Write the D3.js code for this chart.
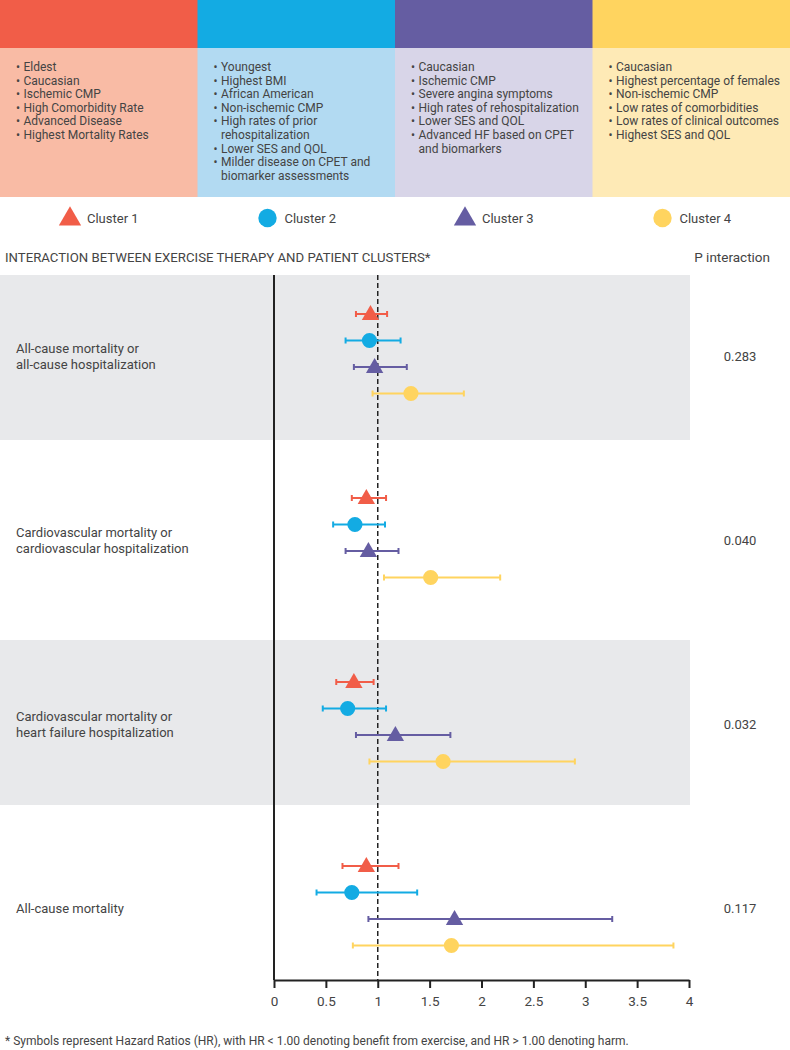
<!DOCTYPE html>
<html>
<head>
<meta charset="utf-8">
<script src="https://cdn.jsdelivr.net/npm/d3@7"></script>
<style>
  html, body { margin: 0; padding: 0; background: #fff; }
  svg { display: block; }
  text { font-family: Roboto, "Noto Sans", sans-serif; fill: #444; }
</style>
</head>
<body>
<svg id="chart" width="790" height="1050"></svg>
<script>
// ---------- DATA ----------
const clusters = ["Cluster 1", "Cluster 2", "Cluster 3", "Cluster 4"];
const clusterColors = ["#F15D48", "#13ABE3", "#655DA2", "#FFD45F"];
const clusterLight = ["#F9BBA5", "#B2DAF2", "#D8D5E8", "#FEEAB6"];
const clusterShapes = ["triangle", "circle", "triangle", "circle"];
const clusterTraits = [
  ["Eldest", "Caucasian", "Ischemic CMP", "High Comorbidity Rate", "Advanced Disease", "Highest Mortality Rates"],
  ["Youngest", "Highest BMI", "African American", "Non-ischemic CMP", ["High rates of prior", "rehospitalization"], "Lower SES and QOL", ["Milder disease on CPET and", "biomarker assessments"]],
  ["Caucasian", "Ischemic CMP", "Severe angina symptoms", "High rates of rehospitalization", "Lower SES and QOL", ["Advanced HF based on CPET", "and biomarkers"]],
  ["Caucasian", "Highest percentage of females", "Non-ischemic CMP", "Low rates of comorbidities", "Low rates of clinical outcomes", "Highest SES and QOL"]
];
const outcomes = [
  ["All-cause mortality or", "all-cause hospitalization"],
  ["Cardiovascular mortality or", "cardiovascular hospitalization"],
  ["Cardiovascular mortality or", "heart failure hospitalization"],
  ["All-cause mortality"]
];
const pInteraction = ["0.283", "0.040", "0.032", "0.117"];
// hazard ratios [outcome][cluster]
const hr    = [[0.93, 0.92, 0.97, 1.32], [0.89, 0.78, 0.91, 1.51], [0.77, 0.71, 1.17, 1.63], [0.89, 0.75, 1.74, 1.71]];
const ciLow = [[0.79, 0.69, 0.77, 0.95], [0.75, 0.57, 0.69, 1.06], [0.60, 0.47, 0.79, 0.92], [0.66, 0.41, 0.91, 0.76]];
const ciHigh= [[1.09, 1.22, 1.28, 1.83], [1.08, 1.07, 1.20, 2.18], [0.96, 1.08, 1.70, 2.90], [1.20, 1.38, 3.26, 3.85]];
const xTicks = [0, 0.5, 1, 1.5, 2, 2.5, 3, 3.5, 4];
const xTickLabels = ["0", "0.5", "1", "1.5", "2", "2.5", "3", "3.5", "4"];
const titleText = "INTERACTION BETWEEN EXERCISE THERAPY AND PATIENT CLUSTERS*";
const pHeader = "P interaction";
const footnote = "* Symbols represent Hazard Ratios (HR), with HR < 1.00 denoting benefit from exercise, and HR > 1.00 denoting harm.";

// ---------- LAYOUT ----------
const W = 790;
const svg = d3.select("#chart");

// header columns
const colX = d3.scaleBand().domain(d3.range(4)).range([0, W]).paddingInner(0);
const colW = colX.bandwidth();

const head = svg.append("g");
head.selectAll("rect.top").data(clusters).join("rect")
  .attr("x", (d, i) => colX(i)).attr("y", 0).attr("width", colW + 0.5).attr("height", 48)
  .attr("fill", (d, i) => clusterColors[i]);
head.selectAll("rect.bot").data(clusters).join("rect")
  .attr("x", (d, i) => colX(i)).attr("y", 48).attr("width", colW + 0.5).attr("height", 149)
  .attr("fill", (d, i) => clusterLight[i]);

const lineH = 13.6;
clusterTraits.forEach((traits, ci) => {
  const g = head.append("g").attr("transform", `translate(${colX(ci)},0)`);
  let row = 0;
  traits.forEach(t => {
    const lines = Array.isArray(t) ? t : [t];
    g.append("text").attr("x", 16).attr("y", 71 + row * lineH)
      .attr("font-size", 12).text("\u2022");
    lines.forEach(l => {
      g.append("text").attr("class", "trait").attr("x", 23.5).attr("y", 71 + row * lineH)
        .attr("font-size", 12).text(l);
      row++;
    });
  });
});

// legend
const leg = svg.append("g");
const sym = (shape, size) => d3.symbol().type(shape === "triangle" ? d3.symbolTriangle : d3.symbolCircle).size(size)();
clusters.forEach((c, i) => {
  const cx = colX(i) + 70;
  const shape = clusterShapes[i];
  leg.append("path").attr("d", shape === "triangle" ? sym("triangle", 215) : sym("circle", 265))
    .attr("transform", `translate(${cx},${shape === "triangle" ? 219 : 218})`)
    .attr("fill", clusterColors[i]);
  leg.append("text").attr("x", colX(i) + 87).attr("y", 218).attr("dy", "0.35em")
    .attr("font-size", 13).text(c);
});

// title row
svg.append("text").attr("x", 5).attr("y", 257).attr("dy", "0.35em").attr("font-size", 13.2).text(titleText);
svg.append("text").attr("x", 770).attr("y", 257).attr("dy", "0.35em").attr("font-size", 13.5)
  .attr("text-anchor", "end").text(pHeader);

// forest plot
const x = d3.scaleLinear().domain([0, 4]).range([274, 689]);
const plotTop = 275, plotBottom = 980;
const bandEdges = [275, 440, 640, 805, 980];
const groupStart = d3.scaleLinear().domain([0, 3]).range([314, 866]);
const clusterOffset = d3.scaleLinear().domain([0, 3]).range([0, 79.5]);
const yPos = (o, c) => groupStart(o) + clusterOffset(c);
const groupMid = o => groupStart(o) + clusterOffset(1.5);

const plot = svg.append("g");
outcomes.forEach((o, i) => {
  if (i % 2 === 0) {
    plot.append("rect").attr("x", 0).attr("y", bandEdges[i]).attr("width", 690)
      .attr("height", bandEdges[i + 1] - bandEdges[i]).attr("fill", "#E8E9EB");
  }
});

// outcome labels
outcomes.forEach((lines, i) => {
  const mid = groupMid(i) + 2.5;
  const t = plot.append("text").attr("font-size", 13);
  lines.forEach((l, k) => {
    t.append("tspan").attr("x", 16)
      .attr("y", mid + (k - (lines.length - 1) / 2) * 16)
      .attr("dy", "0.35em").text(l);
  });
  plot.append("text").attr("x", 740).attr("y", mid).attr("dy", "0.35em")
    .attr("text-anchor", "middle").attr("font-size", 13).text(pInteraction[i]);
});

// axes
plot.append("line").attr("x1", x(0)).attr("x2", x(0)).attr("y1", plotTop).attr("y2", plotBottom)
  .attr("stroke", "#222").attr("stroke-width", 2);
plot.append("line").attr("x1", x(1)).attr("x2", x(1)).attr("y1", plotTop).attr("y2", plotBottom)
  .attr("stroke", "#222").attr("stroke-width", 1.5).attr("stroke-dasharray", "5,3");

const xAxis = d3.axisBottom(x).tickValues(xTicks).tickFormat((d, i) => xTickLabels[i])
  .tickSize(8).tickPadding(8).tickSizeOuter(0);
const ax = plot.append("g").attr("transform", `translate(0,${plotBottom})`).call(xAxis);
ax.select(".domain").attr("stroke", "#222").attr("stroke-width", 2);
ax.selectAll(".tick line").attr("stroke", "#222").attr("stroke-width", 2);
ax.selectAll(".tick text").attr("font-size", 13.5).attr("fill", "#444")
  .attr("font-family", "Roboto, 'Noto Sans', sans-serif");

// error bars and markers
const pts = [];
hr.forEach((row, o) => row.forEach((v, c) => pts.push({ o, c, v, lo: ciLow[o][c], hi: ciHigh[o][c] })));
const eb = plot.append("g");
pts.forEach(p => {
  const y = yPos(p.o, p.c), col = clusterColors[p.c];
  eb.append("line").attr("x1", x(p.lo)).attr("x2", x(p.hi)).attr("y1", y).attr("y2", y)
    .attr("stroke", col).attr("stroke-width", 2);
  [p.lo, p.hi].forEach(v => eb.append("line").attr("x1", x(v)).attr("x2", x(v))
    .attr("y1", y - 3).attr("y2", y + 3).attr("stroke", col).attr("stroke-width", 2));
  const shape = clusterShapes[p.c];
  eb.append("path").attr("d", shape === "triangle" ? sym("triangle", 130) : sym("circle", 180))
    .attr("transform", `translate(${x(p.v)},${shape === "triangle" ? y + 1 : y})`)
    .attr("fill", col);
});

// footnote
svg.append("text").attr("x", 5).attr("y", 1041).attr("dy", "0.35em").attr("font-size", 12).text(footnote);
</script>
</body>
</html>
